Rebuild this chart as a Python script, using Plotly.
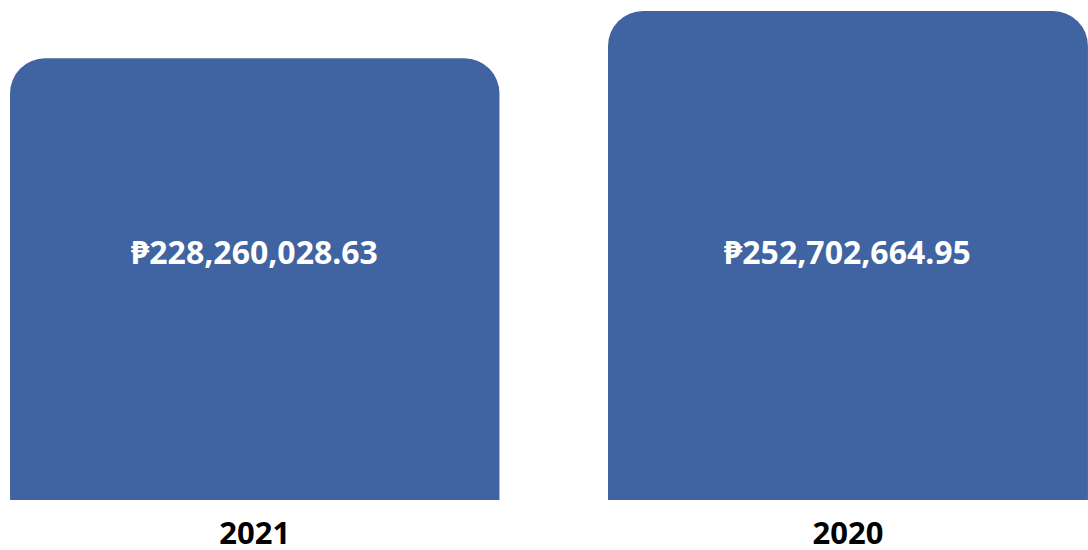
import plotly.graph_objects as go

categories = ["2021", "2020"]
values = [228260028.63, 252702664.95]
labels = ["₱228,260,028.63", "₱252,702,664.95"]

BAR = "#4063A1"
FONT = "Noto Sans"

fig = go.Figure()
fig.add_trace(go.Bar(
    x=categories, y=values,
    marker=dict(color=BAR, line=dict(width=0)),
    width=[0.825, 0.809],
    hoverinfo="skip",
))

for i, t in enumerate(labels):
    fig.add_annotation(
        x=i, y=(500 - 251.5) / 500, xref="x", yref="paper",
        text=f"<b>{t}</b>", showarrow=False,
        font=dict(family=FONT, size=32, color="white"),
    )

fig.update_layout(
    width=1088, height=550,
    margin=dict(l=0, r=0, t=0, b=50, autoexpand=False),
    paper_bgcolor="white", plot_bgcolor="white",
    barcornerradius=35,
    showlegend=False,
    xaxis=dict(
        type="category", range=[-0.4294, 1.4046], automargin=False,
        showgrid=False, zeroline=False, showline=False, ticks="",
        ticklabelstandoff=12,
        tickfont=dict(family=FONT, size=31, color="black", weight=700),
    ),
    yaxis=dict(
        range=[0, 258387182], visible=False, showgrid=False, zeroline=False,
    ),
)

fig.write_html("out.html", config={"displayModeBar": False},
               post_script="document.body.style.margin='0';")
